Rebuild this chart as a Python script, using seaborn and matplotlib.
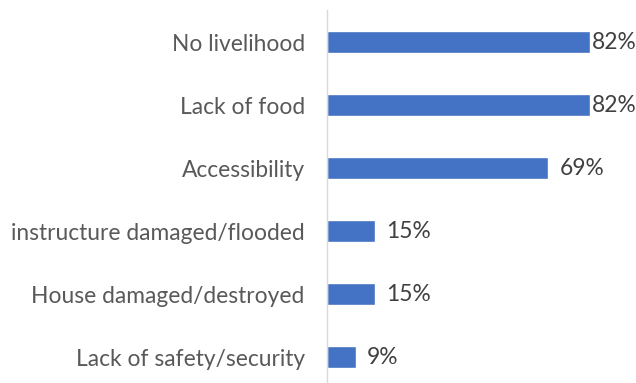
import matplotlib
matplotlib.use("Agg")
import matplotlib.pyplot as plt
import seaborn as sns
import pandas as pd

categories = [
    "No livelihood",
    "Lack of food",
    "Accessibility",
    "instructure damaged/flooded",
    "House damaged/destroyed",
    "Lack of safety/security",
]
values = [82, 82, 69, 15, 15, 9]
value_labels = ["82%", "82%", "69%", "15%", "15%", "9%"]

df = pd.DataFrame({"category": categories, "value": values})

sns.set_theme(style="white")
plt.rcParams["font.family"] = ["Lato", "DejaVu Sans"]

fig = plt.figure(figsize=(6.36, 3.83), dpi=100)
ax = fig.add_axes([0.514, 0.0, 0.414, 1 - 10.5 / 383])

sns.barplot(data=df, x="value", y="category", orient="h", color="#4472C4",
            width=0.34, saturation=1, ax=ax)

ax.set_xlim(0, max(values))
ax.set_ylim(5.41, -0.5)
ax.set_xlabel("")
ax.set_ylabel("")
ax.set_xticks([])
for side in ["top", "right", "bottom"]:
    ax.spines[side].set_visible(False)
ax.spines["left"].set_color("#D9D9D9")
ax.spines["left"].set_linewidth(1.0)
ax.tick_params(axis="y", length=0, pad=16, labelsize=16.4, labelcolor="#595959")

vmax = max(values)
for i, (v, lab) in enumerate(zip(values, value_labels)):
    offset = 1 if v == vmax else 8
    ax.annotate(lab, xy=(v, i), xytext=(offset, 0), textcoords="offset points",
                ha="left", va="center", fontsize=16.4, color="#404040",
                clip_on=False, annotation_clip=False)

fig.savefig("out.png", dpi=100)
